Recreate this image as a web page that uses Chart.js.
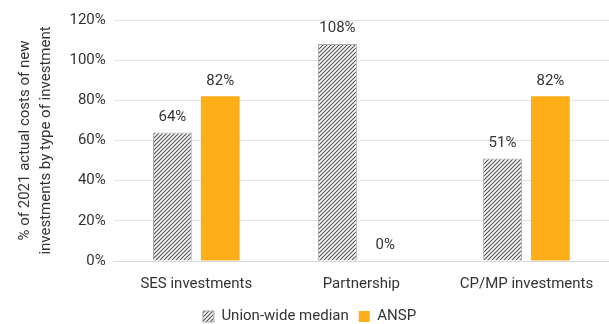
<!DOCTYPE html>
<html>
<head>
<meta charset="utf-8">
<script src="https://cdn.jsdelivr.net/npm/chart.js@4"></script>
<style>
  html, body { margin: 0; padding: 0; background: #fff; }
  #wrap { width: 609px; height: 324px; }
</style>
</head>
<body>
<div id="wrap"><canvas id="chart"></canvas></div>
<script>
const categories = ["SES investments", "Partnership", "CP/MP investments"];
const unionMedian = [64, 108, 51];
const ansp = [82, 0, 82];
const yTicks = [0, 20, 40, 60, 80, 100, 120];

// diagonal hatch like Excel's "wide upward diagonal"
function makeHatch() {
  const c = document.createElement("canvas");
  c.width = 4;
  c.height = 4;
  const g = c.getContext("2d");
  g.fillStyle = "#fff";
  g.fillRect(0, 0, 4, 4);
  g.strokeStyle = "#555";
  g.lineWidth = 1.2;
  g.beginPath();
  g.moveTo(0, 4);
  g.lineTo(4, 0);
  g.moveTo(-1, 1);
  g.lineTo(1, -1);
  g.moveTo(3, 5);
  g.lineTo(5, 3);
  g.stroke();
  return g.createPattern(c, "repeat");
}
const hatch = makeHatch();

const valueLabels = {
  id: "valueLabels",
  afterDatasetsDraw(chart) {
    const ctx = chart.ctx;
    ctx.save();
    ctx.font = "15px Roboto";
    ctx.fillStyle = "#333";
    ctx.textAlign = "center";
    ctx.textBaseline = "bottom";
    chart.data.datasets.forEach((ds, i) => {
      chart.getDatasetMeta(i).data.forEach((bar, j) => {
        ctx.fillText(ds.data[j] + "%", bar.x, bar.y - 8);
      });
    });
    ctx.restore();
  }
};

new Chart(document.getElementById("chart"), {
  type: "bar",
  plugins: [valueLabels],
  data: {
    labels: categories,
    datasets: [
      {
        label: "Union-wide median",
        data: unionMedian,
        backgroundColor: hatch,
        borderColor: "#aaa",
        borderWidth: 1,
        categoryPercentage: 0.58,
        barPercentage: 0.81
      },
      {
        label: "ANSP",
        data: ansp,
        backgroundColor: "#fdae19",
        borderWidth: 0,
        categoryPercentage: 0.58,
        barPercentage: 0.81
      }
    ]
  },
  options: {
    animation: false,
    responsive: true,
    maintainAspectRatio: false,
    layout: { padding: { top: 20, right: 0, left: 10, bottom: -10 } },
    plugins: {
      legend: {
        position: "bottom",
        labels: {
          font: { family: "Roboto", size: 15 },
          color: "#333",
          boxWidth: 11,
          boxHeight: 11,
          padding: 10
        }
      },
      tooltip: { enabled: false }
    },
    scales: {
      x: {
        grid: { display: false },
        border: { color: "#d6dce5" },
        ticks: { font: { family: "Roboto", size: 15 }, color: "#333", padding: 6 }
      },
      y: {
        min: 0,
        max: 120,
        afterBuildTicks: axis => {
          axis.ticks = yTicks.map(v => ({ value: v }));
        },
        grid: { color: "#e3e3e3", drawTicks: false },
        border: { display: false },
        ticks: {
          font: { family: "Roboto", size: 15 },
          color: "#333",
          padding: 8,
          callback: v => v + "%"
        },
        title: {
          display: true,
          text: ["% of 2021 actual costs of new", "investments by type of investment"],
          font: { family: "Roboto", size: 15, lineHeight: 1.45 },
          color: "#333",
          padding: { bottom: 4 }
        }
      }
    }
  }
});
</script>
</body>
</html>
